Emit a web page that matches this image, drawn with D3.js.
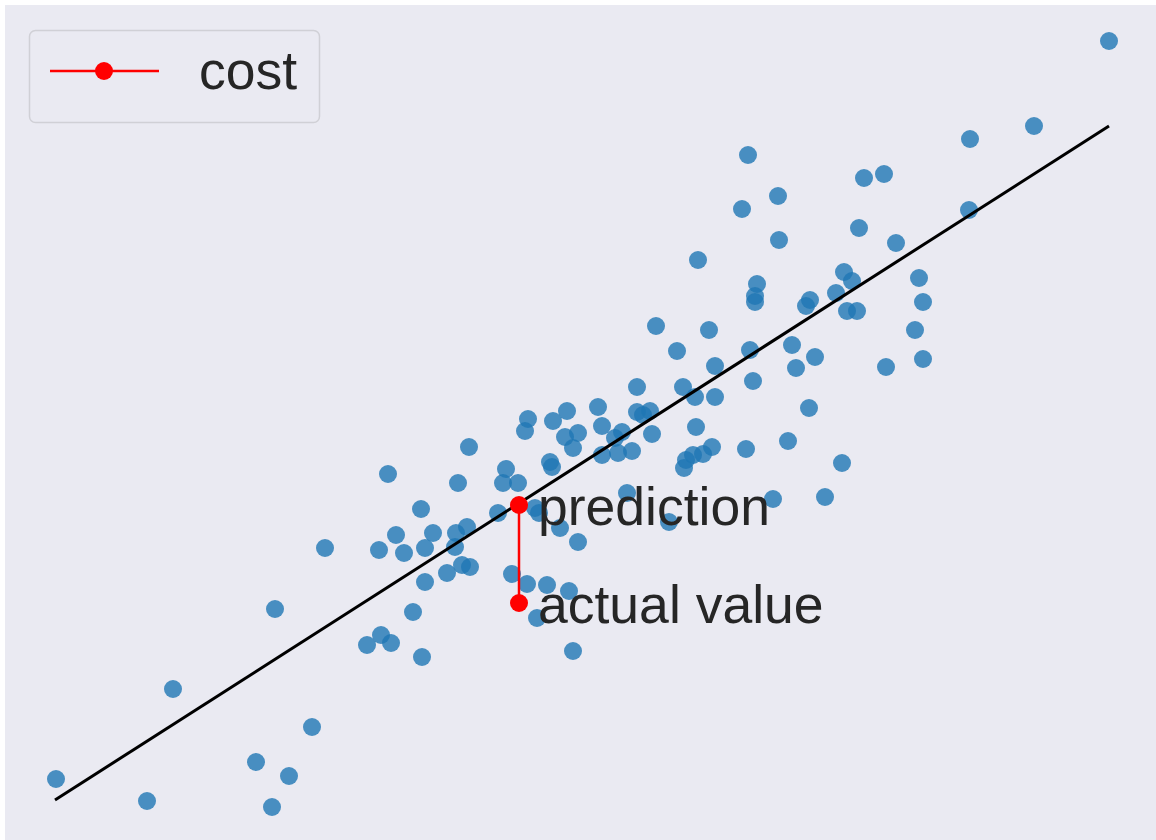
<!DOCTYPE html>
<html>
<head>
<meta charset="utf-8">
<script src="https://cdn.jsdelivr.net/npm/d3@7"></script>
<style>
  body { margin: 0; background: #fff; }
  text { font-family: "Liberation Sans", Arial, sans-serif; fill: #262626; }
</style>
</head>
<body>
<div id="chart"></div>
<script>
"use strict";

// scatter points
const xs = [11.04, 9.65, 10.29, 7.43, 7.73, 7.37, 8.59, 8.79, 7.74, 8.54,
  9.64, 6.93, 8.91, 8.39, 8.47, 9.14, 7.52, 7.50, 7.50, 8.05,
  8.01, 8.31, 9.18, 8.42, 8.52, 6.51, 7.04, 9.10, 6.72, 7.45,
  7.87, 8.10, 9.18, 8.81, 7.10, 7.91, 6.32, 6.78, 6.90, 7.10,
  7.48, 5.93, 5.62, 5.23, 5.48, 5.20, 5.60, 5.73, 5.97, 6.32,
  6.45, 6.38, 6.47, 6.17, 6.10, 5.68, 4.64, 5.97, 6.13, 6.27,
  6.91, 8.04, 7.07, 6.98, 6.88, 6.81, 6.79, 7.41, 7.83, 8.37,
  3.83, 4.53, 5.01, 4.98, 5.13, 5.45, 5.47, 4.16, 4.93, 5.30,
  5.34, 5.55, 5.73, 6.22, 6.64, 7.68, 8.20, 3.91, 4.28, 4.51,
  4.62, 3.20, 3.74, 3.99, 4.20, 4.50, 4.42, 4.57, 4.65, 4.20,
  5.07, 5.22, 5.42, 5.64, 5.32, 4.08, 3.62, 3.76, 3.86, 4.17,
  5.68, 3.07, 2.84, 2.70, 1.68, 2.51, 0.51, 1.42, 2.67];
const ys = [7.99, 7.01, 7.14, 6.85, 6.44, 6.31, 6.62, 6.66, 6.00, 6.12,
  6.30, 5.80, 5.97, 5.68, 5.59, 5.62, 5.56, 5.44, 5.38, 5.40,
  5.34, 5.47, 5.38, 5.29, 5.29, 5.14, 5.10, 5.10, 4.89, 4.90,
  4.95, 4.83, 4.81, 4.73, 4.74, 4.72, 4.53, 4.53, 4.43, 4.43,
  4.59, 4.33, 4.29, 4.21, 4.19, 4.09, 4.03, 4.07, 4.14, 4.28,
  4.29, 4.25, 4.06, 4.08, 4.02, 3.92, 3.93, 3.85, 3.87, 3.89,
  4.13, 4.32, 3.93, 3.86, 3.85, 3.80, 3.72, 3.91, 3.99, 3.77,
  3.66, 3.57, 3.71, 3.57, 3.57, 3.78, 3.73, 3.31, 3.27, 3.32,
  3.27, 3.12, 2.98, 3.47, 3.18, 3.41, 3.43, 3.05, 3.07, 3.07,
  3.13, 2.92, 2.90, 2.87, 2.92, 2.93, 2.67, 2.75, 2.73, 2.58,
  2.66, 2.56, 2.55, 2.49, 2.22, 2.28, 1.95, 2.05, 1.97, 1.83,
  1.89, 1.13, 0.64, 2.31, 1.51, 0.78, 0.61, 0.39, 0.33];

// fitted line end points
const fitX = [0.50, 11.04];
const fitY = [0.40, 7.14];

// one residual: prediction on the line and the actual value below it
const costX = [5.14, 5.14];
const costY = [3.35, 2.37];
const costLabels = ["prediction", "actual value"];
const legendLabel = "cost";

const width = 1156, height = 840;
const plot = { left: 5, top: 5, right: 1156, bottom: 840 };

const svg = d3.select("#chart")
  .append("svg")
    .attr("width", width)
    .attr("height", height);

const x = d3.scaleLinear().domain([0, 11.51]).range([plot.left, plot.right]);
const y = d3.scaleLinear().domain([0, 8.35]).range([plot.bottom, plot.top]);

// seaborn darkgrid background (no ticks shown)
svg.append("rect")
  .attr("x", plot.left)
  .attr("y", plot.top)
  .attr("width", plot.right - plot.left)
  .attr("height", plot.bottom - plot.top)
  .attr("fill", "#eaeaf2");

const points = xs.map(function(d, i) { return { x: d, y: ys[i] }; });

svg.append("g")
  .selectAll("circle")
  .data(points)
  .join("circle")
    .attr("cx", function(d) { return x(d.x); })
    .attr("cy", function(d) { return y(d.y); })
    .attr("r", 9)
    .attr("fill", "#1f77b4")
    .attr("fill-opacity", 0.8);

// regression line
const line = d3.line()
  .x(function(d) { return x(d[0]); })
  .y(function(d) { return y(d[1]); });

svg.append("path")
  .datum(d3.zip(fitX, fitY))
  .attr("d", line)
  .attr("fill", "none")
  .attr("stroke", "#000")
  .attr("stroke-width", 3);

// cost segment
const cost = d3.zip(costX, costY);
svg.append("path")
  .datum(cost)
  .attr("d", line)
  .attr("fill", "none")
  .attr("stroke", "red")
  .attr("stroke-width", 2.5);

svg.append("g")
  .selectAll("circle")
  .data(cost)
  .join("circle")
    .attr("cx", function(d) { return x(d[0]); })
    .attr("cy", function(d) { return y(d[1]); })
    .attr("r", 9)
    .attr("fill", "red");

svg.append("g")
  .selectAll("text")
  .data(cost)
  .join("text")
    .attr("x", function(d) { return x(d[0]) + 19; })
    .attr("y", function(d) { return y(d[1]) + 20; })
    .attr("font-size", 53.5)
    .text(function(d, i) { return costLabels[i]; });

// legend
const legend = svg.append("g").attr("transform", "translate(29,30)");
legend.append("rect")
  .attr("x", 0.5)
  .attr("y", 0.5)
  .attr("width", 290)
  .attr("height", 92)
  .attr("rx", 6)
  .attr("fill", "#eaeaf2")
  .attr("stroke", "#d0d0d6")
  .attr("stroke-width", 1.5);
legend.append("line")
  .attr("x1", 21).attr("x2", 130)
  .attr("y1", 41).attr("y2", 41)
  .attr("stroke", "red")
  .attr("stroke-width", 2.5);
legend.append("circle")
  .attr("cx", 75).attr("cy", 41).attr("r", 9)
  .attr("fill", "red");
legend.append("text")
  .attr("x", 170)
  .attr("y", 59)
  .attr("font-size", 53.5)
  .text(legendLabel);
</script>
</body>
</html>
